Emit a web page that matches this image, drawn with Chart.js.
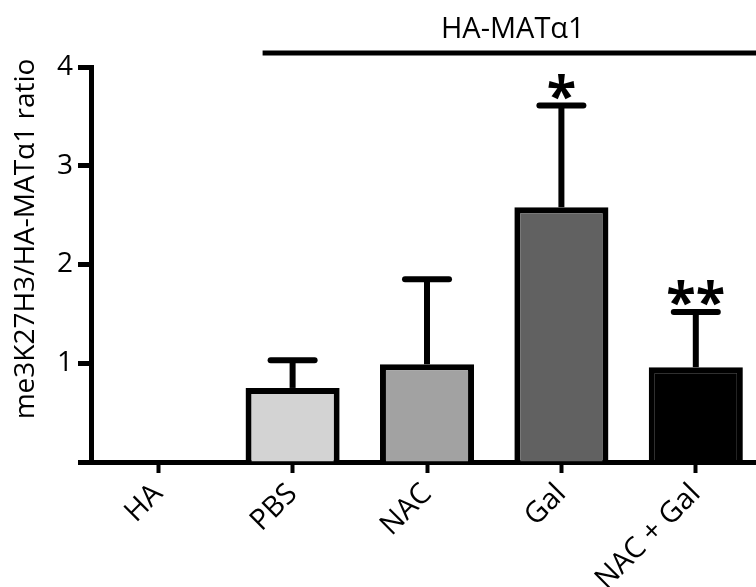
<!DOCTYPE html>
<html>
<head>
<meta charset="utf-8">
<script src="https://cdn.jsdelivr.net/npm/chart.js@4"></script>
<style>
  html, body { margin: 0; padding: 0; overflow: hidden; background: #ffffff; }
  #wrap { position: absolute; left: 0; top: 0; width: 775px; height: 587px; }
</style>
</head>
<body>
<div id="wrap"><canvas id="c"></canvas></div>
<script>
// Group means and upper error (SD) for each treatment
const categories   = ['HA', 'PBS', 'NAC', 'Gal', 'NAC + Gal'];
const meanValues   = [null, 0.75, 0.99, 2.58, 0.96];
const errorUpper   = [null, 0.28, 0.86, 1.03, 0.56];
const barColors    = ['#ffffff', '#d3d3d3', '#a2a2a2', '#616161', '#000000'];
const significance = ['', '', '', '*', '**'];
const yTickValues  = [0, 1, 2, 3, 4];
const groupLabel   = 'HA-MATα1';
const yTitle       = 'me3K27H3/HA-MATα1 ratio';

const FONT = '"Open Sans", "Noto Sans", sans-serif';
Chart.defaults.font.family = FONT;
Chart.defaults.color = '#000';

// Error bars, significance marks, group bracket and the vertical axis title
const overlay = {
  id: 'overlay',
  afterDraw(chart) {
    const { ctx, scales: { x, y }, chartArea } = chart;
    ctx.save();
    ctx.strokeStyle = '#000';
    ctx.fillStyle = '#000';
    ctx.lineWidth = 6;

    meanValues.forEach((v, i) => {
      if (v == null) return;
      const cx = x.getPixelForValue(i);
      const top = y.getPixelForValue(v);
      const capY = y.getPixelForValue(v + errorUpper[i]);
      ctx.lineCap = 'butt';
      ctx.beginPath();
      ctx.moveTo(cx, top);
      ctx.lineTo(cx, capY);
      ctx.stroke();
      ctx.lineCap = 'round';
      ctx.beginPath();
      ctx.moveTo(cx - 22, capY);
      ctx.lineTo(cx + 22, capY);
      ctx.stroke();
      if (significance[i]) {
        ctx.font = 'bold 54px ' + FONT;
        ctx.textAlign = 'center';
        ctx.textBaseline = 'alphabetic';
        ctx.fillText(significance[i], cx, capY + 9);
      }
    });

    // bracket over the HA-MATα1 groups
    const lineStart = x.getPixelForValue(1) - 30;
    const lineEnd = chartArea.right;
    ctx.lineCap = 'butt';
    ctx.lineWidth = 5;
    ctx.beginPath();
    ctx.moveTo(lineStart, 53);
    ctx.lineTo(lineEnd, 53);
    ctx.stroke();
    ctx.font = '29px ' + FONT;
    ctx.textAlign = 'center';
    ctx.textBaseline = 'alphabetic';
    ctx.fillText(groupLabel, (lineStart + lineEnd) / 2, 38);

    // y axis title
    ctx.translate(34, 239);
    ctx.rotate(-Math.PI / 2);
    ctx.font = '28px ' + FONT;
    ctx.textAlign = 'center';
    ctx.fillText(yTitle, 0, 0);
    ctx.restore();
  }
};

new Chart(document.getElementById('c'), {
  type: 'bar',
  data: {
    labels: categories,
    datasets: [{
      data: meanValues,
      backgroundColor: barColors,
      borderColor: '#000',
      borderWidth: 6,
      borderSkipped: 'bottom',
      barPercentage: 0.70,
      categoryPercentage: 1.0
    }]
  },
  options: {
    responsive: true,
    maintainAspectRatio: false,
    animation: false,
    layout: { padding: { top: 67, right: 12, left: 0, bottom: 0 } },
    plugins: { legend: { display: false }, tooltip: { enabled: false } },
    scales: {
      x: {
        z: 1,
        grid: { drawOnChartArea: false, drawTicks: true, offset: false, tickLength: 11, tickWidth: 4, tickColor: '#000' },
        border: { color: '#000', width: 5 },
        ticks: { color: '#000', font: { size: 29 }, maxRotation: 45, minRotation: 45, padding: 4 },
        afterFit(scale) { scale.height = 125; }
      },
      y: {
        min: 0,
        max: 4,
        afterBuildTicks(scale) { scale.ticks = yTickValues.map(v => ({ value: v })); },
        grid: { drawOnChartArea: false, drawTicks: true, tickLength: 13, tickWidth: 5, tickColor: '#000' },
        border: { color: '#000', width: 5 },
        ticks: { color: '#000', font: { size: 28 }, padding: 5, callback: v => (v === 0 ? '' : v) },
        afterFit(scale) { scale.width = 91; }
      }
    }
  },
  plugins: [overlay]
});
</script>
</body>
</html>
